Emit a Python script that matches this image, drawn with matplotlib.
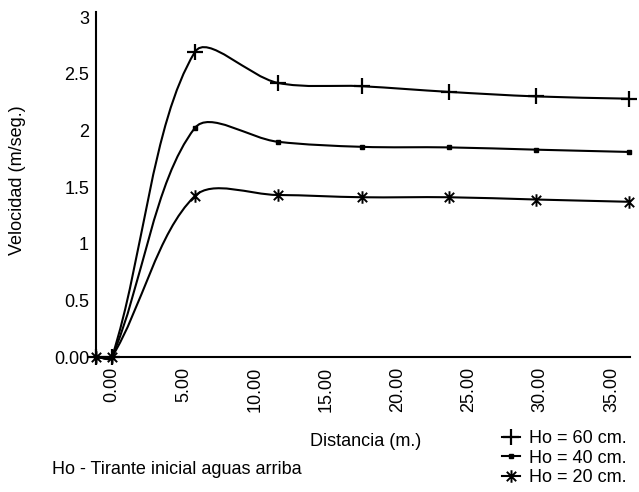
import numpy as np
import matplotlib
matplotlib.use('Agg')
import matplotlib.pyplot as plt
from matplotlib.path import Path
from matplotlib.patches import PathPatch
from matplotlib.lines import Line2D

plt.rcParams['font.family'] = ['Liberation Sans', 'DejaVu Sans']

# datos
dist = [-1.1, 0.0, 5.8, 11.6, 17.5, 23.6, 29.7, 36.2]
v60 = [0.0, 0.0, 2.69, 2.42, 2.39, 2.34, 2.30, 2.28]
v40 = [0.0, 0.0, 2.02, 1.90, 1.855, 1.85, 1.83, 1.81]
v20 = [0.0, 0.0, 1.42, 1.43, 1.41, 1.41, 1.39, 1.37]

etiquetas = ['Ho = 60 cm.', 'Ho = 40 cm.', 'Ho = 20 cm.']
xticks = [0, 5, 10, 15, 20, 25, 30, 35]
xtick_lab = ['0.00', '5.00', '10.00', '15.00', '20.00', '25.00', '30.00', '35.00']
yticks = [0, 0.5, 1, 1.5, 2, 2.5, 3]
ytick_lab = ['0.00', '0.5', '1', '1.5', '2', '2.5', '3']

# marcador asterisco (vertical + X)
star = Path([(0, -1), (0, 1), (-0.75, -0.75), (0.75, 0.75), (-0.75, 0.75), (0.75, -0.75)],
            [Path.MOVETO, Path.LINETO, Path.MOVETO, Path.LINETO, Path.MOVETO, Path.LINETO])

fig = plt.figure(figsize=(6.39, 4.92), dpi=100)
ax = fig.add_axes([96/639, 1-357/492, (630-96)/639, (357-12)/492])
ax.set_xlim(-1.12, 36.3)
ax.set_ylim(0, 3.045)


def curva_suave(ax, xs, ys):
    # bezier tipo "linea suavizada", calculada en coordenadas de pantalla
    P = ax.transData.transform(np.column_stack([xs, ys]))
    n = len(P)
    d = np.hypot(*np.diff(P, axis=0).T)
    verts = [P[0]]
    codes = [Path.MOVETO]
    for i in range(n-1):
        if i == 0:
            c1 = P[0] + (P[1]-P[0])/3
        else:
            T = P[i+1] - P[i-1]
            c1 = P[i] + T*d[i]/(d[i-1]+d[i])/3
        if i+1 == n-1:
            c2 = P[i+1] - (P[i+1]-P[i])/3
        else:
            T = P[i+2] - P[i]
            c2 = P[i+1] - T*d[i]/(d[i]+d[i+1])/3
        verts += [c1, c2, P[i+1]]
        codes += [Path.CURVE4]*3
    verts = ax.transData.inverted().transform(np.array(verts))
    ax.add_patch(PathPatch(Path(verts, codes), fill=False, lw=1.5, ec='black',
                           clip_on=False, zorder=3))


series = [(v60, '+', 12, 1.6), (v40, 's', 2.5, 1.0), (v20, star, 9, 1.4)]
handles = []
for (vals, mk, ms, mew), lab in zip(series, etiquetas):
    curva_suave(ax, dist, vals)
    ax.plot(dist, vals, ls='none', marker=mk, ms=ms, mew=mew, color='black',
            mfc='black', clip_on=False, zorder=4)
    handles.append(Line2D([], [], color='black', lw=1.5, marker=mk, ms=ms,
                          mew=mew, mfc='black', label=lab))

ax.spines['top'].set_visible(False)
ax.spines['right'].set_visible(False)
ax.spines['left'].set_linewidth(1.5)
ax.spines['bottom'].set_linewidth(1.5)
ax.set_xticks(xticks)
ax.set_xticklabels(xtick_lab, rotation=90, fontsize=13)
ax.set_yticks(yticks)
ax.set_yticklabels(ytick_lab, fontsize=13)
ax.tick_params(axis='x', length=0, pad=7)
ax.tick_params(axis='y', length=0, pad=5)

fig.text(18/639, 1-180/492, 'Velocidad (m/seg.)', rotation=90, ha='center',
         va='center', fontsize=13)
fig.text(366/639, 1-442/492, 'Distancia (m.)', ha='center', va='center', fontsize=13)
fig.text(52/639, 1-470/492, 'Ho - Tirante inicial aguas arriba', ha='left',
         va='center', fontsize=13)

fig.legend(handles=handles, loc='upper left', bbox_to_anchor=(502/639, 1-430/492),
           frameon=False, fontsize=13, handlelength=1.0, handletextpad=0.5,
           labelspacing=0.15, borderpad=0, borderaxespad=0)

fig.savefig('out.png', dpi=100)
